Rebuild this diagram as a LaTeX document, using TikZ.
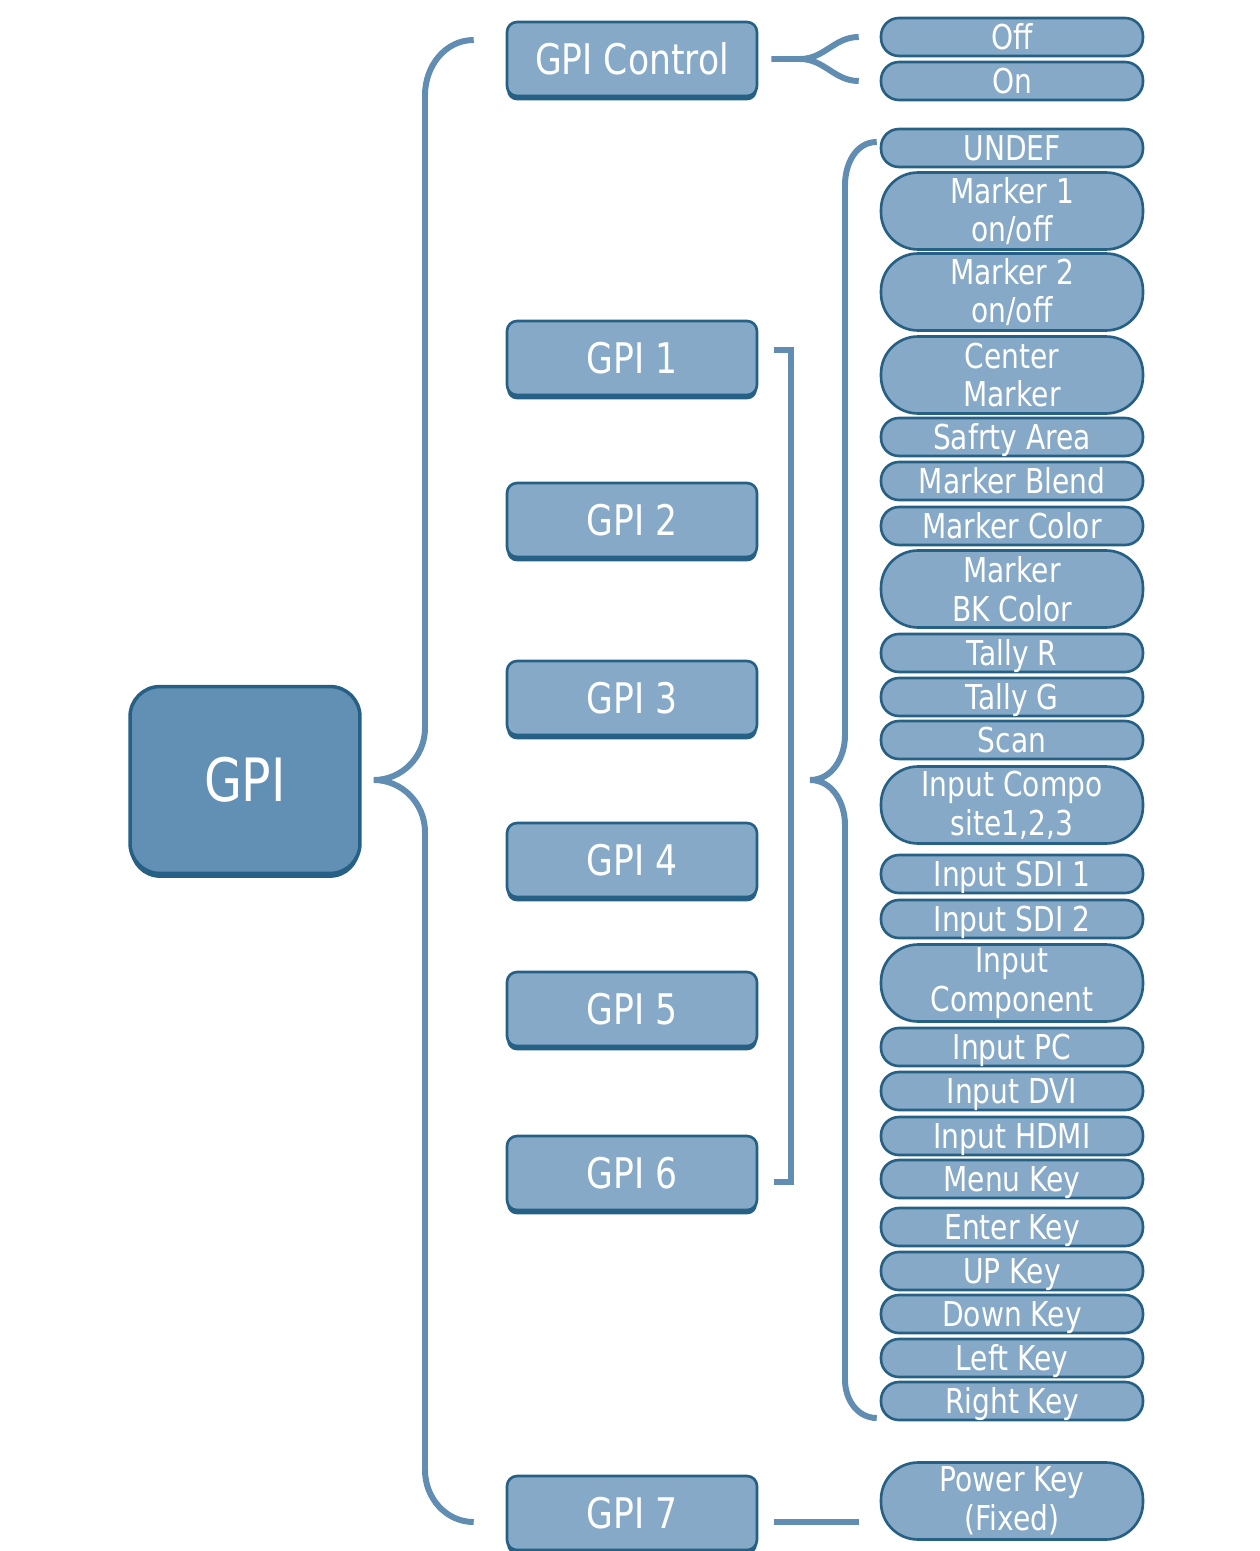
\documentclass[tikz,border=0pt]{standalone}
\usepackage{fontspec}
\setmainfont[FakeStretch=0.82]{DejaVu Sans}
\usetikzlibrary{shadows}

\definecolor{gpidark}{RGB}{98,143,180}
\definecolor{gpilight}{RGB}{133,169,199}
\definecolor{gpiedge}{RGB}{38,96,132}
\definecolor{gpiline}{RGB}{96,141,177}

\begin{document}
\begin{tikzpicture}
	[
		x=0.02cm, y=-0.02cm,
		box/.style = {shape=rectangle, draw=gpiedge, line width=1.5pt, text=white, anchor=center},
		root/.style = {box, line width=2pt, fill=gpidark, rounded corners=0.6cm, minimum width=4.6cm, minimum height=3.74cm, general shadow={fill=gpiedge, shadow yshift=-2.5pt}, font=\fontsize{34}{40}\selectfont},
		item/.style = {box, fill=gpilight, rounded corners=0.2cm, minimum width=5cm, minimum height=1.48cm, general shadow={fill=gpiedge, shadow yshift=-2.5pt}, font=\fontsize{24}{28}\selectfont},
		leaf/.style = {box, fill=gpilight, inner sep=0pt, minimum width=5.24cm, font=\fontsize{19.5}{22}\selectfont},
		sleaf/.style = {leaf, rounded corners=0.36cm, minimum height=0.76cm, text height=14pt, text depth=0pt},
		tleaf/.style = {leaf, rounded corners=0.74cm, minimum height=1.54cm, align=center},
		link/.style = {draw=gpiline, line width=3.4pt}
	]
	
	\useasboundingbox (0,0) rectangle (1260,1551);
	
	\def\ix{632}
	\def\lx{1012}
	
	\node [root] (gpi) at (245, 780) {GPI};
	
	\node [item] (ctl) at (\ix, 59) {GPI Control};
	\node [item] (gpione) at (\ix, 358) {GPI 1};
	\node [item] (gpitwo) at (\ix, 520) {GPI 2};
	\node [item] (gpithree) at (\ix, 698) {GPI 3};
	\node [item] (gpifour) at (\ix, 860) {GPI 4};
	\node [item] (gpifive) at (\ix, 1009) {GPI 5};
	\node [item] (gpisix) at (\ix, 1173) {GPI 6};
	\node [item] (gpiseven) at (\ix, 1513) {GPI 7};
	
	\node [sleaf] (off) at (\lx, 37) {Off};
	\node [sleaf] (on) at (\lx, 81) {On};
	
	\node [sleaf] (undef) at (\lx, 148) {UNDEF};
	\node [tleaf] (mkone) at (\lx, 211) {Marker 1\\on/off};
	\node [tleaf] (mktwo) at (\lx, 292) {Marker 2\\on/off};
	\node [tleaf] (center) at (\lx, 375) {Center\\Marker};
	\node [sleaf] (safety) at (\lx, 437) {Safrty Area};
	\node [sleaf] (blend) at (\lx, 481) {Marker Blend};
	\node [sleaf] (color) at (\lx, 526) {Marker Color};
	\node [tleaf] (bkcolor) at (\lx, 589) {Marker\\BK Color};
	\node [sleaf] (tallyr) at (\lx, 653) {Tally R};
	\node [sleaf] (tallyg) at (\lx, 697) {Tally G};
	\node [sleaf] (scan) at (\lx, 740) {Scan};
	\node [tleaf] (compo) at (\lx, 805) {Input Compo\\site1,2,3};
	\node [sleaf] (sdione) at (\lx, 874) {Input SDI 1};
	\node [sleaf] (sditwo) at (\lx, 919) {Input SDI 2};
	\node [tleaf] (compon) at (\lx, 983) {Input\\Component};
	\node [sleaf] (pc) at (\lx, 1047) {Input PC};
	\node [sleaf] (dvi) at (\lx, 1091) {Input DVI};
	\node [sleaf] (hdmi) at (\lx, 1136) {Input HDMI};
	\node [sleaf] (keymenu) at (\lx, 1179) {Menu Key};
	\node [sleaf] (keyenter) at (\lx, 1227) {Enter Key};
	\node [sleaf] (keyup) at (\lx, 1271) {UP Key};
	\node [sleaf] (keydown) at (\lx, 1314) {Down Key};
	\node [sleaf] (keyleft) at (\lx, 1358) {Left Key};
	\node [sleaf] (keyright) at (\lx, 1401) {Right Key};
	
	\node [tleaf] (power) at (\lx, 1501) {Power Key\\(Fixed)};
	
	\coordinate (tip) at ([xshift=0.24cm]gpi.east);
	\coordinate (fork) at (800, 59);
	\coordinate (tiptwo) at (810, 780);
	\coordinate (gpisevenout) at ([xshift=0.32cm, yshift=-0.18cm]gpiseven.east);
	
	\draw [link] ([xshift=-0.64cm, yshift=0.38cm]ctl.west) to[out=180, in=90] (425, 95) -- (425, 728) to[out=-90, in=0] (tip) to[out=0, in=90] (425, 832) -- (425, 1470) to[out=-90, in=180] ([xshift=-0.64cm, yshift=-0.18cm]gpiseven.west);
	
	\draw [link] ([xshift=0.26cm]ctl.east) -- (fork) to[out=0, in=180] ([xshift=-0.42cm]off.west);
	\draw [link] (fork) to[out=0, in=180] ([xshift=-0.42cm]on.west);
	
	\draw [link, line join=miter] ([xshift=0.32cm, yshift=0.16cm]gpione.east) -- ++(17, 0) |- ([xshift=0.32cm, yshift=-0.18cm]gpisix.east);
	
	\draw [link] ([xshift=-0.06cm, yshift=0.12cm]undef.west) to[out=180, in=90] (845, 185) -- (845, 735) to[out=-90, in=0] (tiptwo) to[out=0, in=90] (845, 825) -- (845, 1380) to[out=-90, in=180] ([xshift=-0.06cm, yshift=-0.34cm]keyright.west);
	
	\draw [link] (gpisevenout) -- ([xshift=-0.42cm]gpisevenout -| power.west);
	
\end{tikzpicture}
\end{document}
